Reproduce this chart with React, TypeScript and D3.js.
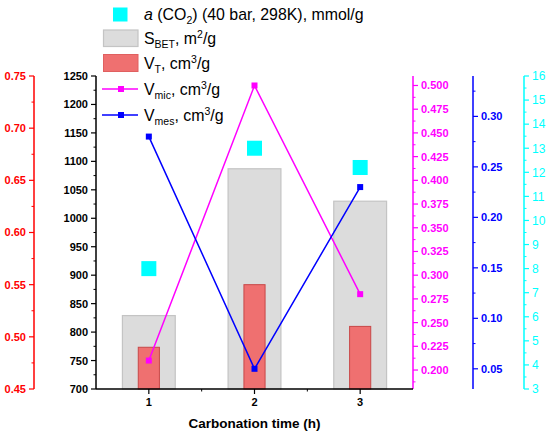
import React from "react";
import * as d3 from "d3";

// values
const categories = [1, 2, 3];
const sBet = [829, 1087, 1030];
const vT = [0.49, 0.55, 0.51];
const vMic = [0.21, 0.5, 0.28];
const vMes = [0.28, 0.05, 0.23];
const co2 = [8.0, 13.0, 12.2];

const betTicks = [700, 750, 800, 850, 900, 950, 1000, 1050, 1100, 1150, 1200, 1250];
const vtTicks = [0.45, 0.5, 0.55, 0.6, 0.65, 0.7, 0.75];
const micTicks = [0.2, 0.225, 0.25, 0.275, 0.3, 0.325, 0.35, 0.375, 0.4, 0.425, 0.45, 0.475, 0.5];
const mesTicks = [0.05, 0.1, 0.15, 0.2, 0.25, 0.3];
const co2Ticks = [3, 4, 5, 6, 7, 8, 9, 10, 11, 12, 13, 14, 15, 16];

const top = 76;
const bottom = 389;
const left = 96;
const right = 413;

const x = d3.scaleLinear().domain([0.5, 3.5]).range([left, right]);
const yBet = d3.scaleLinear().domain([700, 1250]).range([bottom, top]);
const yVt = d3.scaleLinear().domain([0.45, 0.75]).range([bottom, top]);
const yMic = d3.scaleLinear().domain([0.18, 0.51]).range([bottom, top]);
const yMes = d3.scaleLinear().domain([0.03, 0.34]).range([bottom, top]);
const yCo2 = d3.scaleLinear().domain([3, 16]).range([bottom, top]);

const font = "'Liberation Sans', Arial, sans-serif";

type AxisProps = {
    scale: d3.ScaleLinear<number, number>;
    at: number;
    side: "left" | "right";
    color: string;
    ticks: number[];
    minorStep: number;
    format: (v: number) => string;
    bold?: boolean;
    fontSize?: number;
};

/** vertical axis with major + minor ticks */
function VAxis({ scale, at, side, color, ticks, minorStep, format, bold = true, fontSize = 11 }: AxisProps) {
    const [d0, d1] = scale.domain();
    const dir = side === "left" ? -1 : 1;
    const minors: number[] = [];
    const n = Math.round((d1 - d0) / minorStep);
    for (let i = 0; i <= n; i++) {
        const v = Math.ceil(d0 / minorStep) * minorStep + i * minorStep;
        if (v <= d1 + 1e-9 && !ticks.some(t => Math.abs(t - v) < 1e-9)) minors.push(v);
    }
    return (
        <g>
            <line x1={at} x2={at} y1={scale(d1)} y2={scale(d0)} stroke={color} strokeWidth={1.5} />
            {minors.map(v => (
                <line key={"m" + v} x1={at} x2={at + dir * 2.5} y1={scale(v)} y2={scale(v)} stroke={color} strokeWidth={1} />
            ))}
            {ticks.map(v => (
                <g key={v}>
                    <line x1={at} x2={at + dir * 5} y1={scale(v)} y2={scale(v)} stroke={color} strokeWidth={1.2} />
                    <text
                        x={at + dir * 8}
                        y={scale(v)}
                        dy="0.36em"
                        textAnchor={side === "left" ? "end" : "start"}
                        fill={color}
                        fontWeight={bold ? "bold" : "normal"}
                        fontSize={fontSize}
                        fontFamily={font}
                    >
                        {format(v)}
                    </text>
                </g>
            ))}
        </g>
    );
}

export default function App() {
    const micLine = d3.line<number>().x((_, i) => x(categories[i])).y(d => yMic(d));
    const mesLine = d3.line<number>().x((_, i) => x(categories[i])).y(d => yMes(d));
    const xMinor = [1.5, 2.5];

    return (
        <svg width={550} height={437} style={{ position: "absolute", left: 0, top: 0, background: "#fff" }}>
            {/* S_BET bars */}
            {categories.map((c, i) => (
                <rect key={"b" + c} x={x(c - 0.25)} y={yBet(sBet[i])} width={x(c + 0.25) - x(c - 0.25)}
                    height={bottom - yBet(sBet[i])} fill="#dcdcdc" stroke="#c4c4c4" strokeWidth={1.2} />
            ))}
            {/* V_T bars */}
            {categories.map((c, i) => (
                <rect key={"t" + c} x={x(c - 0.1)} y={yVt(vT[i])} width={x(c + 0.1) - x(c - 0.1)}
                    height={bottom - yVt(vT[i])} fill="#ef7070" stroke="#c84848" strokeWidth={1} />
            ))}

            {/* axes */}
            <VAxis scale={yVt} at={34} side="left" color="#ff0000" ticks={vtTicks} minorStep={0.025} format={d3.format(".2f")} />
            <VAxis scale={yBet} at={left} side="left" color="#000" ticks={betTicks} minorStep={25} format={d3.format("d")} />
            <VAxis scale={yMic} at={right} side="right" color="#ff00ff" ticks={micTicks} minorStep={0.0125} format={d3.format(".3f")} />
            <VAxis scale={yMes} at={473} side="right" color="#0000ff" ticks={mesTicks} minorStep={0.025} format={d3.format(".2f")} />
            <VAxis scale={yCo2} at={524} side="right" color="#00ffff" ticks={co2Ticks} minorStep={0.5} format={d3.format("d")} bold={false} fontSize={12} />

            {/* bottom axis */}
            <line x1={left} x2={right} y1={bottom} y2={bottom} stroke="#000" strokeWidth={1.5} />
            {categories.map(c => (
                <g key={"x" + c}>
                    <line x1={x(c)} x2={x(c)} y1={bottom} y2={bottom + 5} stroke="#000" strokeWidth={1.2} />
                    <text x={x(c)} y={406} textAnchor="middle" fontWeight="bold" fontSize={11} fontFamily={font}>{c}</text>
                </g>
            ))}
            {xMinor.map(v => (
                <line key={"xm" + v} x1={x(v)} x2={x(v)} y1={bottom} y2={bottom + 2.5} stroke="#000" strokeWidth={1} />
            ))}
            <text x={x(2)} y={428} textAnchor="middle" fontWeight="bold" fontSize={13.5} fontFamily={font}>Carbonation time (h)</text>

            {/* lines */}
            <path d={micLine(vMic) || ""} fill="none" stroke="#ff00ff" strokeWidth={1.5} />
            <path d={mesLine(vMes) || ""} fill="none" stroke="#0000ff" strokeWidth={1.5} />
            {categories.map((c, i) => (
                <rect key={"pm" + c} x={x(c) - 3} y={yMic(vMic[i]) - 3} width={6} height={6} fill="#ff00ff" />
            ))}
            {categories.map((c, i) => (
                <rect key={"pb" + c} x={x(c) - 3} y={yMes(vMes[i]) - 3} width={6} height={6} fill="#0000ff" />
            ))}
            {/* CO2 uptake */}
            {categories.map((c, i) => (
                <rect key={"pc" + c} x={x(c) - 7.5} y={yCo2(co2[i]) - 7.5} width={15} height={15} fill="#00ffff" />
            ))}

            {/* legend */}
            <g fontFamily={font} fontSize={15.9} fill="#000">
                <rect x={113} y={7.5} width={14.5} height={14} fill="#00ffff" />
                <text x={144} y={20}>
                    <tspan fontStyle="italic">a</tspan> (CO<tspan fontSize={10.5} dy={4}>2</tspan><tspan dy={-4}>) (40 bar, 298K), mmol/g</tspan>
                </text>

                <rect x={103.5} y={30} width={34.5} height={16.5} fill="#dcdcdc" stroke="#c4c4c4" strokeWidth={1.2} />
                <text x={144} y={44}>
                    S<tspan fontSize={10.5} dy={4}>BET</tspan><tspan dy={-4}>, m</tspan><tspan fontSize={10.5} dy={-6}>2</tspan><tspan dy={6}>/g</tspan>
                </text>

                <rect x={103.5} y={54.5} width={34.5} height={17} fill="#ef7070" stroke="#e06060" strokeWidth={1} />
                <text x={144} y={69}>
                    V<tspan fontSize={10.5} dy={4}>T</tspan><tspan dy={-4}>, cm</tspan><tspan fontSize={10.5} dy={-6}>3</tspan><tspan dy={6}>/g</tspan>
                </text>

                <line x1={102} x2={138} y1={89} y2={89} stroke="#ff00ff" strokeWidth={1.5} />
                <rect x={118} y={86} width={6} height={6} fill="#ff00ff" />
                <text x={144} y={95}>
                    V<tspan fontSize={10.5} dy={4}>mic</tspan><tspan dy={-4}>, cm</tspan><tspan fontSize={10.5} dy={-6}>3</tspan><tspan dy={6}>/g</tspan>
                </text>

                <line x1={102} x2={138} y1={115} y2={115} stroke="#0000ff" strokeWidth={1.5} />
                <rect x={118} y={112} width={6} height={6} fill="#0000ff" />
                <text x={144} y={121}>
                    V<tspan fontSize={10.5} dy={4}>mes</tspan><tspan dy={-4}>, cm</tspan><tspan fontSize={10.5} dy={-6}>3</tspan><tspan dy={6}>/g</tspan>
                </text>
            </g>
        </svg>
    );
}
